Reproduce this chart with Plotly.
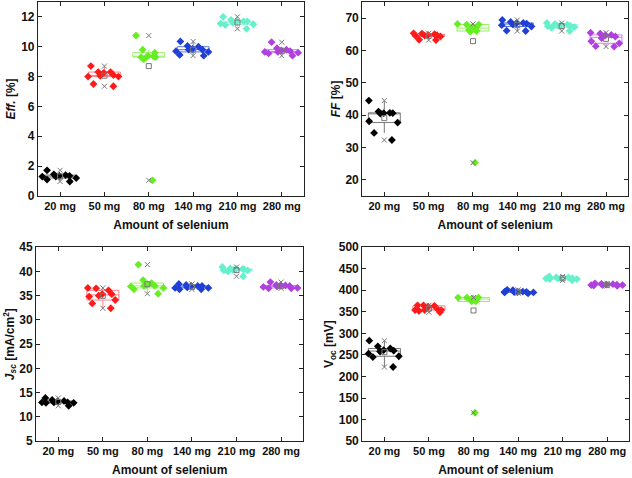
import plotly.graph_objects as go
import numpy as np

categories = ["20 mg", "50 mg", "80 mg", "140 mg", "210 mg", "280 mg"]
colors = ["#000000", "#ff1a1a", "#66ee22", "#1f3fd6", "#66f0cc", "#b040e0"]
box_colors = ["#777777", "#ff7f8a", "#99f066", "#5a78d8", "#99f5dd", "#cc80f0"]

eff = [
    [1.35, 0.97, 1.2, 1.45, 1.4, 1.72, 1.1, 1.3, 1.35, 1.3],
    [8.0, 8.3, 8.0, 8.25, 8.7, 7.35, 7.5, 8.05, 8.3, 8.1],
    [9.35, 9.8, 9.3, 10.75, 9.6, 9.15, 9.3, 9.3, 1.05, 9.4],
    [9.4, 9.8, 10.05, 9.85, 10.35, 9.65, 10.0, 9.8, 9.45, 9.7],
    [11.5, 11.55, 11.7, 11.7, 12.0, 11.2, 11.45, 11.7, 11.8, 11.6],
    [9.55, 9.6, 9.9, 10.3, 9.75, 9.4, 9.8, 9.65, 9.65, 9.7],
]
ff = [
    [41.1, 40.6, 40.5, 40.7, 40.6, 44.5, 38.1, 37.7, 34.5, 32.3],
    [64.5, 64.8, 64.3, 65.2, 65.3, 63.3, 64.6, 65.0, 64.7, 63.2],
    [67.0, 66.8, 68.0, 67.3, 66.0, 65.8, 66.3, 68.2, 68.0, 25.3],
    [68.3, 68.8, 69.4, 68.0, 67.8, 68.5, 66.0, 66.1, 68.5, 67.4],
    [67.6, 68.5, 67.2, 67.0, 66.0, 68.0, 68.2, 67.8, 67.6, 67.5],
    [64.3, 64.8, 64.7, 65.2, 65.5, 62.8, 61.2, 61.3, 63.8, 62.2],
]
jsc = [
    [13.0, 13.3, 13.0, 12.9, 13.0, 13.9, 12.3, 13.2, 13.5, 12.9],
    [35.3, 36.5, 36.6, 34.8, 34.1, 35.3, 36.1, 32.4, 33.4, 35.0],
    [36.6, 36.9, 37.6, 37.0, 38.2, 41.4, 37.0, 36.3, 35.4, 37.2],
    [37.0, 37.0, 37.2, 36.7, 36.3, 36.3, 37.0, 37.4, 36.6, 36.6],
    [40.5, 40.5, 40.2, 40.3, 39.0, 40.9, 40.6, 40.4, 40.0, 40.2],
    [36.5, 36.5, 37.0, 37.1, 37.8, 36.8, 37.1, 36.6, 37.2, 36.9],
]
voc = [
    [261, 253, 270, 260, 247, 222, 245, 283, 265, 258],
    [354, 354, 355, 365, 349, 364, 365, 354, 352, 362],
    [380, 379, 383, 381, 374, 383, 374, 378, 383, 116],
    [395, 397, 393, 400, 396, 401, 396, 396, 396, 395],
    [427, 426, 428, 430, 428, 432, 423, 430, 426, 427],
    [412, 414, 413, 415, 412, 416, 410, 411, 412, 413],
]

panels = [
    dict(data=eff, title="<i>Eff.</i> [%]", rng=[0, 13], dtick=2, x=[0.060, 0.481], y=[0.590, 0.996]),
    dict(data=ff, title="<i>FF</i> [%]", rng=[15, 75], dtick=10, x=[0.573, 0.994], y=[0.590, 0.996]),
    dict(data=jsc, title="<i>J</i><sub><i>sc</i></sub> [mA/cm<sup>2</sup>]", rng=[5, 45], dtick=5, x=[0.057, 0.480], y=[0.077, 0.483]),
    dict(data=voc, title="V<sub>oc</sub> [mV]", rng=[50, 500], dtick=50, x=[0.573, 0.996], y=[0.077, 0.483]),
]

fig = go.Figure()
font = dict(family="Liberation Sans, Arial, sans-serif", size=12, color="#111111")

for i, p in enumerate(panels):
    xa = "x" if i == 0 else f"x{i+1}"
    ya = "y" if i == 0 else f"y{i+1}"
    for j, cat in enumerate(categories):
        vals = p["data"][j]
        # box outline (outlier markers hidden; points drawn by the next trace)
        fig.add_trace(go.Box(
            x=[cat] * len(vals), y=vals, xaxis=xa, yaxis=ya,
            boxpoints="outliers", width=0.72,
            fillcolor="rgba(255,255,255,0)",
            line=dict(color=box_colors[j], width=1),
            whiskerwidth=0.0,
            marker=dict(size=0, opacity=0, color="rgba(0,0,0,0)"),
            showlegend=False, hoverinfo="skip",
        ))
        # jittered data points
        fig.add_trace(go.Box(
            x=[cat] * len(vals), y=vals, xaxis=xa, yaxis=ya,
            boxpoints="all", jitter=1.0, pointpos=0, width=0.95,
            fillcolor="rgba(255,255,255,0)",
            line=dict(color="rgba(0,0,0,0)", width=0),
            marker=dict(symbol="diamond", size=6, color=colors[j]),
            showlegend=False,
        ))
    means = [float(np.mean(v)) for v in p["data"]]
    mins = [float(np.min(v)) for v in p["data"]]
    maxs = [float(np.max(v)) for v in p["data"]]
    fig.add_trace(go.Scatter(x=categories, y=means, mode="markers", xaxis=xa, yaxis=ya,
                             marker=dict(symbol="square-open", size=5, color="#777777", line=dict(width=1)),
                             showlegend=False))
    fig.add_trace(go.Scatter(x=categories + categories, y=mins + maxs, mode="markers", xaxis=xa, yaxis=ya,
                             marker=dict(symbol="x-thin-open", size=5, color="#777777", line=dict(width=1, color="#777777")),
                             showlegend=False))
    xkey = "xaxis" if i == 0 else f"xaxis{i+1}"
    ykey = "yaxis" if i == 0 else f"yaxis{i+1}"
    fig.layout[xkey] = dict(
        domain=p["x"], anchor=ya, type="category", categoryorder="array", categoryarray=categories,
        range=[-0.5, 5.5], showline=True, linecolor="#222222", linewidth=1, mirror="allticks",
        ticks="inside", ticklen=4, tickcolor="#222222", showgrid=False, zeroline=False,
        automargin=False,
        tickfont=dict(font, size=11, weight="bold"),
        title=dict(text="<b>Amount of selenium</b>", font=dict(font, size=12), standoff=9),
    )
    fig.layout[ykey] = dict(
        domain=p["y"], anchor=xa, range=p["rng"], dtick=p["dtick"], showline=True,
        linecolor="#222222", linewidth=1, mirror="allticks", ticks="inside", ticklen=4,
        tickcolor="#222222", showgrid=False, zeroline=False, automargin=False,
        tickfont=dict(font, size=12, weight="bold"),
        title=dict(text="<b>" + p["title"] + "</b>", font=dict(font, size=12), standoff=2),
    )

fig.update_layout(
    width=632, height=478, margin=dict(l=0, r=0, t=0, b=0),
    paper_bgcolor="white", plot_bgcolor="white", font=font, boxmode="overlay",
)
fig.write_html("out.html", config={"displayModeBar": False},
               post_script="document.body.style.margin='0';")
